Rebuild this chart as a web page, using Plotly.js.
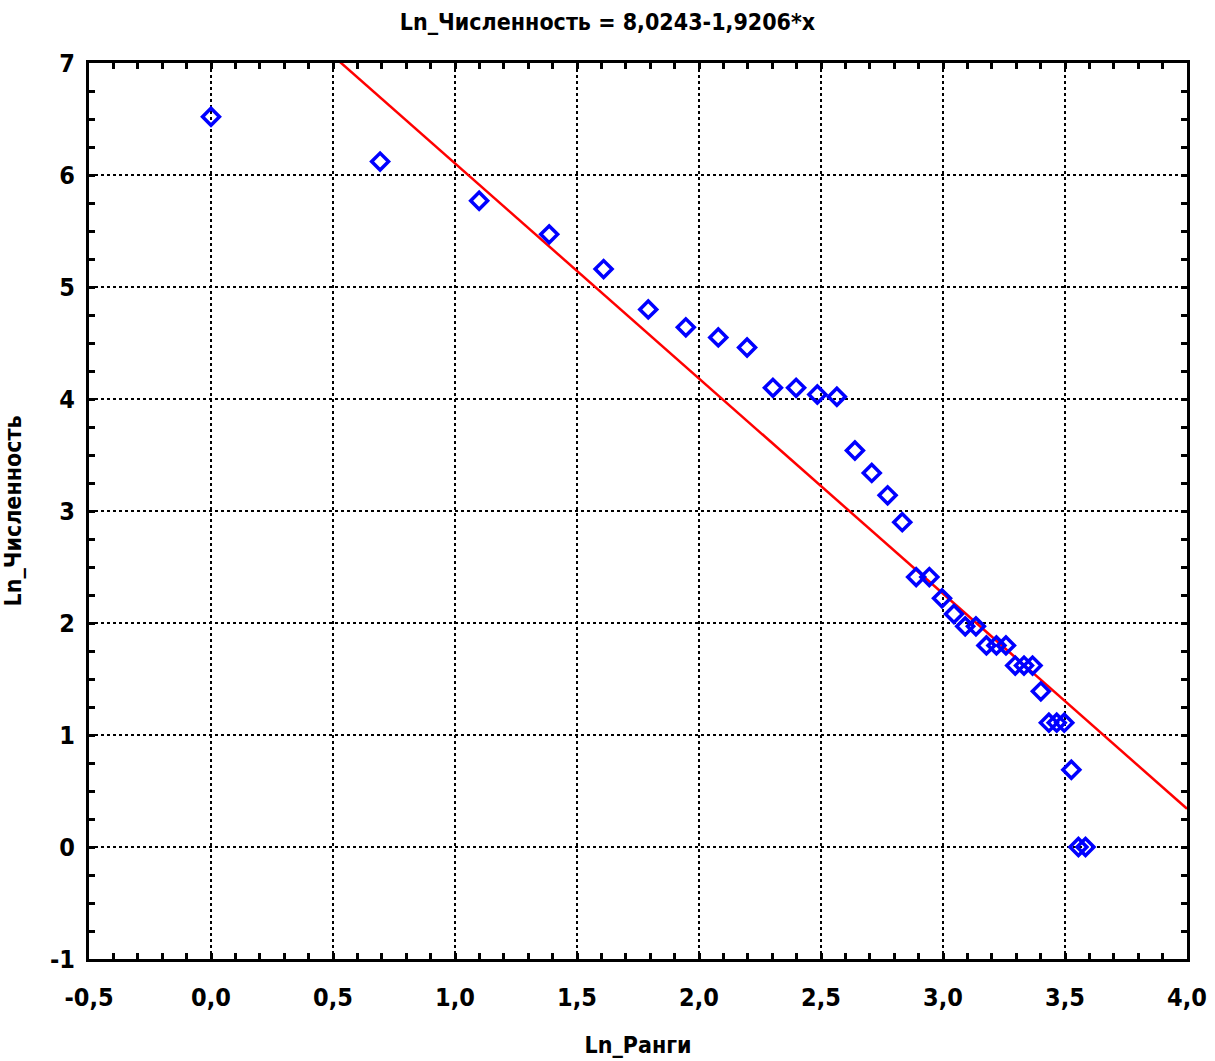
<!DOCTYPE html>
<html>
<head>
<meta charset="utf-8">
<script src="https://cdn.plot.ly/plotly-3.0.1.min.js"></script>
<style>html,body{margin:0;padding:0;background:#fff;}#chart{width:1215px;height:1061px;}</style>
</head>
<body>
<div id="chart"></div>
<script>
// Ln of rank (x) and Ln of abundance (y)
var lnRank = [0.000, 0.693, 1.099, 1.386, 1.609, 1.792, 1.946, 2.079, 2.197, 2.303, 2.398, 2.485,
  2.565, 2.639, 2.708, 2.773, 2.833, 2.890, 2.944, 2.996, 3.045, 3.091, 3.135, 3.178,
  3.219, 3.258, 3.296, 3.332, 3.367, 3.401, 3.434, 3.466, 3.497, 3.526, 3.555, 3.584];
var lnCount = [6.52, 6.12, 5.77, 5.47, 5.16, 4.80, 4.64, 4.55, 4.46, 4.10, 4.10, 4.04,
  4.02, 3.54, 3.34, 3.14, 2.90, 2.41, 2.41, 2.22, 2.08, 1.97, 1.97, 1.80,
  1.80, 1.80, 1.62, 1.62, 1.62, 1.39, 1.11, 1.11, 1.11, 0.69, 0.00, 0.00];
// regression coefficients
var intercept = 8.0243;
var slope = -1.9206;
var lineX = [-0.5, 4.0];
var lineY = lineX.map(function (v) { return intercept + slope * v; });

var xTickVals = [-0.5, 0, 0.5, 1, 1.5, 2, 2.5, 3, 3.5, 4];
var xTickText = ['-0,5', '0,0', '0,5', '1,0', '1,5', '2,0', '2,5', '3,0', '3,5', '4,0'];
var yTickVals = [-1, 0, 1, 2, 3, 4, 5, 6, 7];
var yTickText = ['-1', '0', '1', '2', '3', '4', '5', '6', '7'];

var FONT = '"DejaVu Sans Condensed", "Liberation Sans Narrow", Arial, sans-serif';

var traces = [
  {
    x: lineX, y: lineY, mode: 'lines', type: 'scatter',
    line: { color: '#ff0000', width: 2.5 }, hoverinfo: 'skip', cliponaxis: true
  },
  {
    x: lnRank, y: lnCount, mode: 'markers', type: 'scatter',
    marker: { symbol: 'diamond-open', size: 13, color: '#0000ff', line: { color: '#0000ff', width: 3.5 } }
  }
];

var axisCommon = {
  showline: true, linecolor: '#000', linewidth: 3, mirror: 'allticks',
  ticks: 'inside', ticklen: 6, tickwidth: 3, tickcolor: '#000',
  showgrid: true, gridcolor: '#000', gridwidth: 2, griddash: 'dot',
  zeroline: false,
  tickfont: { family: FONT, size: 25, color: '#000', weight: 'bold' }
};

var layout = {
  width: 1215, height: 1061,
  margin: { l: 89, r: 28, t: 63, b: 102 },
  paper_bgcolor: '#fff', plot_bgcolor: '#fff',
  showlegend: false,
  title: {
    text: 'Ln_Численность = 8,0243-1,9206*x',
    font: { family: FONT, size: 23, color: '#000', weight: 'bold' },
    x: 0.5, xanchor: 'center', y: 0.979, yanchor: 'middle'
  },
  xaxis: Object.assign({}, axisCommon, {
    range: [-0.5, 4.0], tickmode: 'array', tickvals: xTickVals, ticktext: xTickText,
    ticklabelstandoff: 14,
    minor: { dtick: 0.1, ticks: 'inside', ticklen: 6, tickwidth: 3, tickcolor: '#000', showgrid: false },
    title: { text: 'Ln_Ранги', font: { family: FONT, size: 23, color: '#000', weight: 'bold' }, standoff: 26 }
  }),
  yaxis: Object.assign({}, axisCommon, {
    range: [-1, 7], tickmode: 'array', tickvals: yTickVals, ticktext: yTickText,
    ticklabelstandoff: 6,
    minor: { dtick: 0.25, ticks: 'inside', ticklen: 6, tickwidth: 3, tickcolor: '#000', showgrid: false },
    title: { text: 'Ln_Численность', font: { family: FONT, size: 23, color: '#000', weight: 'bold' }, standoff: 24 }
  })
};

Plotly.newPlot('chart', traces, layout, { displayModeBar: false, staticPlot: true });
</script>
</body>
</html>
